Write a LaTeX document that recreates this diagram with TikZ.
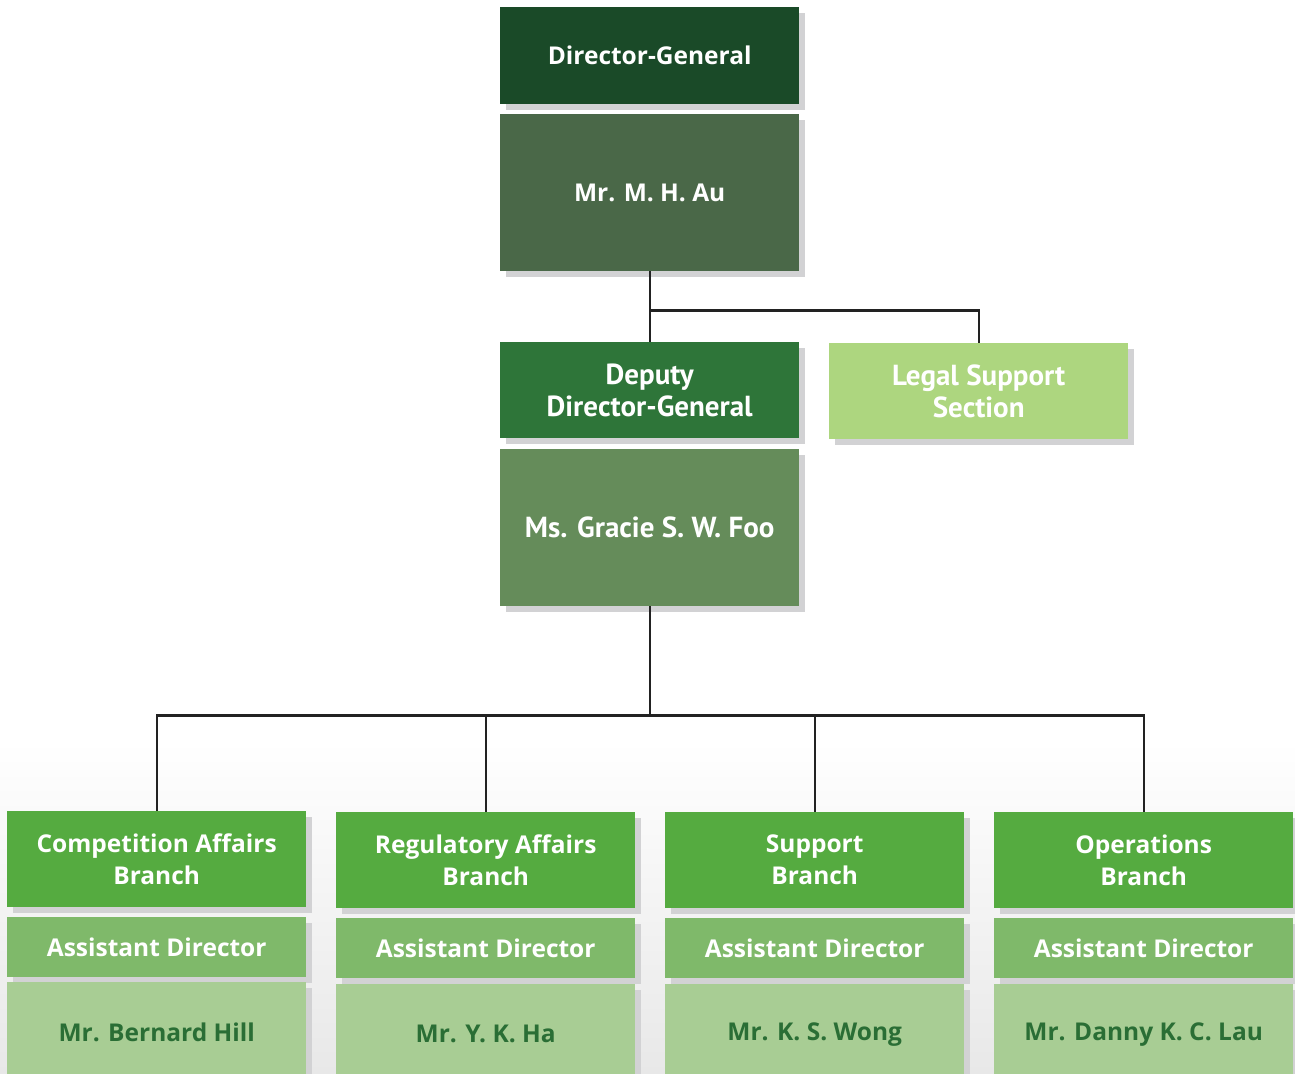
\documentclass[tikz,border=0pt]{standalone}
\usepackage{fontspec}
\setmainfont{Open Sans}
\newfontfamily\condfont{PT Sans}
\usetikzlibrary{shadows}
\definecolor{cDG}{HTML}{1A4A28}
\definecolor{cAu}{HTML}{4A6848}
\definecolor{cDep}{HTML}{2E7539}
\definecolor{cLegal}{HTML}{ADD67F}
\definecolor{cFoo}{HTML}{658C5A}
\definecolor{cBranch}{HTML}{55AB40}
\definecolor{cAD}{HTML}{7FB96A}
\definecolor{cName}{HTML}{A8CD94}
\definecolor{cNameText}{HTML}{2A6E35}
\definecolor{cShadow}{HTML}{D2D2D4}
\definecolor{cLine}{HTML}{222222}
\tikzset{
  orgbox/.style={anchor=north west, inner sep=0pt, minimum width=299pt, align=center,
    text=white, font=\bfseries\fontsize{24.5}{32}\selectfont,
    drop shadow={shadow xshift=6pt, shadow yshift=-6pt, fill=cShadow, opacity=1}},
  condbox/.style={orgbox, font=\condfont\bfseries\fontsize{29}{32}\selectfont},
  link/.style={draw=cLine, line width=2.2pt}
}
\begin{document}
\begin{tikzpicture}[x=1pt,y=-1pt]
\useasboundingbox (0,0) rectangle (1295,1073);
\shade[top color=white, bottom color=black!9, shading angle=0] (0,740) rectangle (1295,1073);
% top
\node[orgbox, fill=cDG, minimum height=97pt] (dg) at (500,7) {Director-General};
\node[orgbox, fill=cAu, minimum height=157pt] (au) at (500,114) {Mr. M. H. Au};
\node[condbox, fill=cDep, minimum height=96pt] (dep) at (500,342) {Deputy\\Director-General};
\node[condbox, fill=cLegal, minimum height=96pt] (legal) at (829,343) {Legal Support\\Section};
\node[condbox, fill=cFoo, minimum height=157pt] (foo) at (500,449) {Ms. Gracie S. W. Foo};
% branches
\node[orgbox, fill=cBranch, minimum height=96pt] (b1) at (7,811) {Competition Affairs\\Branch};
\node[orgbox, fill=cBranch, minimum height=96pt] (b2) at (336,812) {Regulatory Affairs\\Branch};
\node[orgbox, fill=cBranch, minimum height=96pt] (b3) at (665,812) {Support\\Branch};
\node[orgbox, fill=cBranch, minimum height=96pt] (b4) at (994,812) {Operations\\Branch};
\node[orgbox, fill=cAD, minimum height=60pt] (a1) at (7,917) {Assistant Director};
\node[orgbox, fill=cAD, minimum height=60pt] (a2) at (336,918) {Assistant Director};
\node[orgbox, fill=cAD, minimum height=60pt] (a3) at (665,918) {Assistant Director};
\node[orgbox, fill=cAD, minimum height=60pt] (a4) at (994,918) {Assistant Director};
\node[orgbox, fill=cName, text=cNameText, minimum height=100pt] (n1) at (7,982) {Mr. Bernard Hill};
\node[orgbox, fill=cName, text=cNameText, minimum height=100pt] (n2) at (336,984) {Mr. Y. K. Ha};
\node[orgbox, fill=cName, text=cNameText, minimum height=100pt] (n3) at (665,984) {Mr. K. S. Wong};
\node[orgbox, fill=cName, text=cNameText, minimum height=100pt] (n4) at (994,984) {Mr. Danny K. C. Lau};
% connectors
\draw[link] (au.south) -- (dep.north);
\draw[link] (au.south) ++(0,39) coordinate (j1) -| (legal.north);
\draw[link] (foo.south) -- ++(0,109) coordinate (j2);
\draw[link] (j2) -| (b1.north);
\draw[link] (j2) -| (b2.north);
\draw[link] (j2) -| (b3.north);
\draw[link] (j2) -| (b4.north);
\end{tikzpicture}
\end{document}
